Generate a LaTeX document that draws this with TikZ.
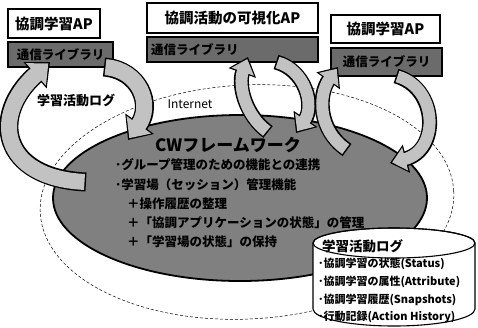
\documentclass[tikz,border=0pt]{standalone}
\usepackage{fontspec}
\setmainfont{Noto Sans CJK JP}
\usetikzlibrary{arrows.meta}
\newcommand{\rib}[2]{\draw[rib#1] #2; \draw[rib#1i] #2;}
\begin{document}
\begin{tikzpicture}[x=1pt,y=-1pt,
  every node/.style={inner sep=0pt, outer sep=0pt},
  apbox/.style={draw=black, line width=1.2pt, fill=white, anchor=north west, font=\fontsize{14.5}{16}\selectfont\bfseries},
  libbox/.style={draw=black, line width=1.2pt, fill=black!58, anchor=north west, font=\fontsize{12.5}{14}\selectfont\bfseries},
  cwline/.style={anchor=west, font=\fontsize{12.5}{14}\selectfont\bfseries},
  logline/.style={anchor=west, font=\fontsize{11}{13}\selectfont\bfseries},
  ribA/.style={line width=19pt, draw=black, -{Triangle[length=20pt,width=34pt]}},
  ribAi/.style={line width=16pt, draw=black!24, -{Triangle[length=16.5pt,width=29pt]}, shorten >=2.2pt, shorten <=1.5pt},
  ribB/.style={line width=15pt, draw=black, -{Triangle[length=17pt,width=28pt]}},
  ribBi/.style={line width=12pt, draw=black!24, -{Triangle[length=13.5pt,width=23pt]}, shorten >=2.2pt, shorten <=1.5pt}
]
\useasboundingbox (0,0) rectangle (478,327);
% outer internet ellipse
\draw[densely dashed, line width=0.5pt, rotate around={3:(247,202)}] (247,202) ellipse [x radius=207pt, y radius=117pt];
% CW framework disk
\draw[fill=black!50, line width=1.8pt] (240,198) ellipse [x radius=187pt, y radius=83pt];
\node[font=\fontsize{17}{20}\selectfont\bfseries] (cwt) at (228,145) {CWフレームワーク};
\node[cwline] (l1) at (115,165) {･グループ管理のための機能との連携};
\node[cwline] (l2) at (115,185) {･学習場（セッション）管理機能};
\node[cwline] (l3) at (127,204) {＋操作履歴の整理};
\node[cwline] (l4) at (127,223) {＋「協調アプリケーションの状態」の管理};
\node[cwline] (l5) at (127,242) {＋「学習場の状態」の保持};
% boxes
\node[apbox, minimum width=92pt, minimum height=29pt] (apL) at (8,9) {協調学習AP};
\node[libbox, minimum width=105pt, minimum height=25pt] (libL) at (8,42) {通信ライブラリ};
\node[apbox, minimum width=171pt, minimum height=30pt] (apM) at (147,3) {協調活動の可視化AP};
\node[libbox, minimum width=171pt, minimum height=25pt, align=left, text width=163pt] (libM) at (147,37) {通信ライブラリ};
\node[apbox, minimum width=109pt, minimum height=28pt] (apR) at (331,15) {協調学習AP};
\node[libbox, minimum width=111pt, minimum height=28pt] (libR) at (331,48) {通信ライブラリ};
% ribbon end points
\coordinate (a1s) at (104,67); \coordinate (a1e) at (128,140);
\coordinate (a2s) at (86,182); \coordinate (a2e) at (50,62);
\coordinate (b1s) at (268,132); \coordinate (b1e) at (248,57);
\coordinate (b2s) at (276,62); \coordinate (b2e) at (296,133);
\coordinate (c1s) at (347,150); \coordinate (c1e) at (338,67);
\coordinate (c2s) at (396,76); \coordinate (c2e) at (390,163);
\rib{A}{(a1s) .. controls (140,70) and (153,105) .. (a1e)}
\rib{A}{(a2s) .. controls (0,178) and (-10,115) .. (a2e)}
\rib{B}{(b1s) .. controls (245,115) and (238,85) .. (b1e)}
\rib{B}{(b2s) .. controls (305,70) and (315,105) .. (b2e)}
\rib{B}{(c1s) .. controls (318,130) and (318,95) .. (c1e)}
\rib{B}{(c2s) .. controls (438,88) and (440,150) .. (c2e)}
% labels
\node[font=\fontsize{13}{15}\selectfont\bfseries] (logL) at (76,100) {学習活動ログ};
\node[font=\fontsize{12}{14}\selectfont] (inet) at (190,104) {Internet};
% database cylinder
\draw[fill=white, line width=1.1pt] (313,243) -- (313,309) arc[start angle=180, end angle=360, x radius=81pt, y radius=17pt] -- (475,243) arc[start angle=0, end angle=180, x radius=81pt, y radius=15pt] -- cycle;
\draw[line width=1.1pt] (394,243) ellipse [x radius=81pt, y radius=15pt];
\node[anchor=west, font=\fontsize{13.5}{15}\selectfont\bfseries] (dbt) at (322,246) {学習活動ログ};
\node[logline] (d1) at (318,264) {･協調学習の状態(Status)};
\node[logline] (d2) at (318,282) {･協調学習の属性(Attribute)};
\node[logline] (d3) at (318,300) {･協調学習履歴(Snapshots)};
\node[logline] (d4) at (318,317) {･行動記録(Action History)};
\end{tikzpicture}
\end{document}
